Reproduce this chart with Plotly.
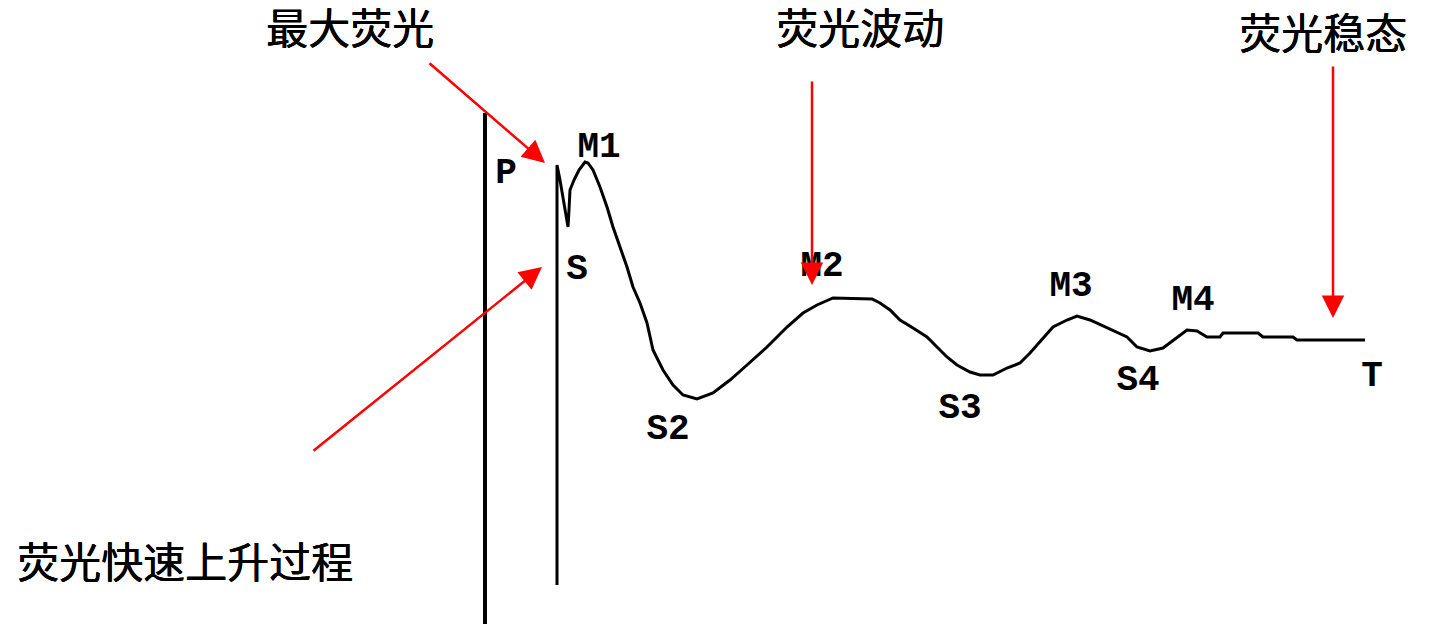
import plotly.graph_objects as go

# Kautsky fluorescence induction curve (drawing coordinates, y downward)
curve_x = [557, 557, 560, 563, 568, 569, 570, 574, 579, 585, 588, 593, 600, 607, 613, 620, 627, 633,
           640, 647, 653, 663, 673, 683, 697, 713, 730, 747, 767, 787, 803, 817, 827, 833, 872,
           880, 890, 900, 913, 927, 937, 947, 957, 970, 980, 993, 1007, 1020, 1030, 1043, 1053,
           1067, 1077, 1090, 1107, 1127, 1137, 1150, 1163, 1177, 1187, 1197, 1207, 1220, 1223,
           1258, 1263, 1293, 1297, 1365]
curve_y = [585, 165, 180, 197, 227, 210, 190, 180, 170, 162, 163, 170, 187, 207, 227, 247, 267, 287,
           303, 323, 350, 370, 385, 395, 399, 393, 380, 365, 347, 327, 313, 305, 301, 298, 299,
           303, 310, 320, 328, 337, 347, 357, 365, 372, 375, 375, 368, 363, 353, 338, 327,
           320, 316, 320, 328, 337, 347, 351, 348, 337, 330, 331, 337, 337, 333,
           333, 337, 337, 340, 340]

axis_x = [485, 485]
axis_y = [113, 630]

point_labels = ["P", "M1", "S", "S2", "M2", "S3", "M3", "S4", "M4", "T"]
point_label_x = [506, 599, 577, 668, 822, 960, 1071, 1138, 1193, 1372]
point_label_y = [174, 148, 270, 430, 267, 409, 287, 381, 301, 377]

phase_labels = ["最大荧光", "荧光波动", "荧光稳态", "荧光快速上升过程"]
phase_label_x = [350, 860, 1323, 185]
phase_label_y = [33, 33, 38, 567]

arrow_tail_x = [428, 812, 1333, 312]
arrow_tail_y = [62, 80, 65, 452]
arrow_head_x = [545, 812, 1333, 542]
arrow_head_y = [163, 285, 318, 267]

fig = go.Figure()
fig.add_trace(go.Scatter(x=axis_x, y=axis_y, mode="lines", cliponaxis=True,
                         line=dict(color="black", width=4), hoverinfo="skip"))
fig.add_trace(go.Scatter(x=curve_x, y=curve_y, mode="lines",
                         line=dict(color="black", width=3), hoverinfo="skip"))
fig.add_trace(go.Scatter(x=point_label_x, y=point_label_y, mode="text", text=point_labels,
                         textposition="middle center", cliponaxis=False,
                         textfont=dict(family="Liberation Mono", size=36, color="black", weight="bold"),
                         hoverinfo="skip"))
fig.add_trace(go.Scatter(x=phase_label_x, y=phase_label_y, mode="text", text=phase_labels,
                         textposition="middle center", cliponaxis=False,
                         textfont=dict(family="Noto Sans CJK SC", size=42, color="black",
                                       shadow="0.6px 0 0 #000, 0 0.5px 0 #000"),
                         hoverinfo="skip"))

for tx, ty, hx, hy in zip(arrow_tail_x, arrow_tail_y, arrow_head_x, arrow_head_y):
    fig.add_annotation(x=hx, y=hy, ax=tx, ay=ty, xref="x", yref="y", axref="x", ayref="y",
                       text="", showarrow=True, arrowhead=2, arrowsize=1.8, arrowwidth=2.5,
                       arrowcolor="red", standoff=0)

# page body has an 8px default margin; size the figure so the drawing maps 1:1 to the window
fig.update_layout(width=1442, height=616, autosize=False,
                  margin=dict(l=0, r=0, t=0, b=0),
                  paper_bgcolor="white", plot_bgcolor="white", showlegend=False)
fig.update_xaxes(range=[8, 1450], visible=False, fixedrange=True)
fig.update_yaxes(range=[624, 8], visible=False, fixedrange=True)

fig.write_html("out.html")
